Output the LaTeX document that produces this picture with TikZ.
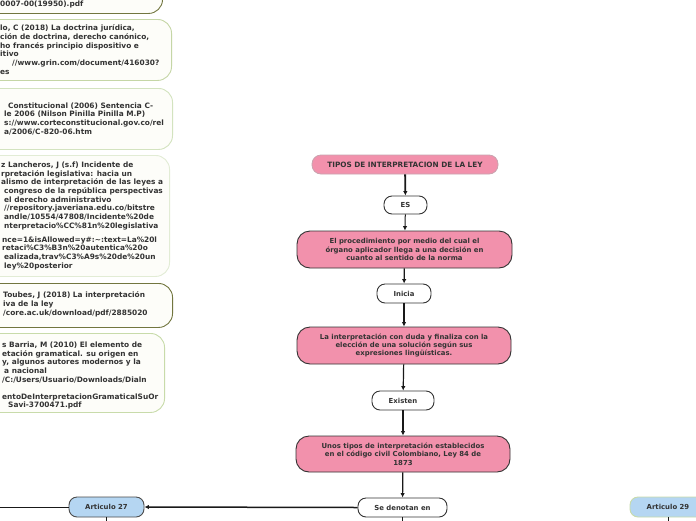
\documentclass[tikz,border=0pt]{standalone}
\usepackage{fontspec}
\setmainfont{DejaVu Sans}
\usetikzlibrary{arrows.meta}
\definecolor{pinkfill}{HTML}{F291AC}
\definecolor{bluefill}{HTML}{B5D6F2}
\definecolor{reffill}{HTML}{FDFDF9}
\definecolor{txt}{HTML}{333333}
\definecolor{olivedark}{HTML}{72763F}
\definecolor{greenA}{HTML}{C5D6A6}
\definecolor{greenB}{HTML}{D3E3BF}
\definecolor{greenC}{HTML}{E2ECD5}
\definecolor{greenD}{HTML}{C8DBAA}
\definecolor{pinkline}{HTML}{C9A3AF}
\begin{document}
\begin{tikzpicture}[x=1pt,y=-1pt,
  mainfont/.style={font=\fontsize{6.9}{8.4}\selectfont\bfseries},
  reffont/.style={font=\fontsize{7.4}{8.7}\selectfont\bfseries},
  refbox/.style={draw, line width=0.9pt, fill=reffill, rounded corners=14pt, inner sep=0pt},
  reftext/.style={reffont, text=txt, align=left, inner sep=0pt, anchor=north west},
  pinkbox/.style={draw=black!80, line width=0.9pt, fill=pinkfill, rounded corners=13pt, align=center, text=txt, mainfont, inner sep=0pt},
  whitebox/.style={draw=black!80, line width=0.9pt, fill=white, rounded corners=8pt, align=center, text=txt, mainfont, inner sep=0pt},
  bluebox/.style={draw=black!70, line width=0.9pt, fill=bluefill, rounded corners=8pt, align=center, text=txt, mainfont, inner sep=0pt},
  arr/.style={-{Latex[length=4.5pt,width=4.5pt]}, line width=1.2pt, draw=black!90},
  plain/.style={line width=1pt, draw=black!90}
]
\useasboundingbox (0,0) rectangle (696,520);
\clip (0,0) rectangle (696,520);
\fill[white] (0,0) rectangle (696,520);

% left reference boxes
\node[refbox, draw=olivedark, anchor=north east, minimum width=203pt, minimum height=53pt] (b1) at (163,-40) {};
\node[refbox, draw=greenA, anchor=north east, minimum width=212pt, minimum height=61pt] (b2) at (172,19) {};
\node[refbox, draw=greenB, anchor=north east, minimum width=213pt, minimum height=61pt] (b3) at (173,88) {};
\node[refbox, draw=greenC, anchor=north east, minimum width=210pt, minimum height=121pt] (b4) at (170,155) {};
\node[refbox, draw=olivedark, anchor=north east, minimum width=213pt, minimum height=44pt] (b5) at (173,283) {};
\node[refbox, draw=greenD, anchor=north east, minimum width=205pt, minimum height=79pt] (b6) at (165,333) {};

\node[reftext] (t1) at (0,0.5) {0007-00(19950).pdf};
\node[reftext] (t2) at (0,24.5) {lo, C (2018) La doctrina jurídica,\\
ción de doctrina, derecho canónico,\\
ho francés principio dispositivo e\\
itivo\\
\hspace*{12pt}//www.grin.com/document/416030?\\
es};
\node[reftext] (t3) at (4,102.2) {\hspace*{4pt}Constitucional (2006) Sentencia C-\\
le 2006 (Nilson Pinilla Pinilla M.P)\\
s://www.corteconstitucional.gov.co/rel\\
a/2006/C-820-06.htm};
\node[reftext] (t4) at (1,161.5) {z Lancheros, J (s.f) Incidente de\\
rpretación legislativa: hacia un\\
alismo de interpretación de las leyes a\\
\hspace*{3pt}congreso de la república perspectivas\\
\hspace*{3pt}el derecho administrativo\\
\hspace*{3pt}//repository.javeriana.edu.co/bitstre\\
\hspace*{3pt}andle/10554/47808/Incidente\%20de\\
\hspace*{3pt}nterpretacio\%CC\%81n\%20legislativa\\[5.3pt]
\hspace*{1pt}nce=1\&isAllowed=y\#:\textasciitilde:text=La\%20l\\
\hspace*{1pt}retaci\%C3\%B3n\%20autentica\%20o\\
\hspace*{3pt}ealizada,trav\%C3\%A9s\%20de\%20un\\
\hspace*{3pt}ley\%20posterior};
\node[reftext] (t5) at (3,291.5) {Toubes, J (2018) La interpretación\\
iva de la ley\\
/core.ac.uk/download/pdf/2885020};
\node[reftext] (t6) at (2,341.5) {s Barria, M (2010) El elemento de\\
etación gramatical. su origen en\\
y, algunos autores modernos y la\\
\hspace*{2pt}a nacional\\
/C:/Users/Usuario/Downloads/Dialn\\[8.4pt]
entoDeInterpretacionGramaticalSuOr\\
\hspace*{6pt}Savi-3700471.pdf};

% main flow
\node[pinkbox, draw=pinkline, line width=0.8pt, rounded corners=9pt, minimum width=186pt, minimum height=19pt, font=\fontsize{7.3}{8.4}\selectfont\bfseries] (tipos) at (405,164.5) {TIPOS DE INTERPRETACION DE LA LEY};
\node[whitebox, minimum width=43pt, minimum height=18pt] (es) at (405.5,205) {ES};
\node[pinkbox, minimum width=215pt, minimum height=37pt] (proc) at (404.5,249.5) {El procedimiento por medio del cual el\\órgano aplicador llega a una decisión en\\cuanto al sentido de la norma};
\node[whitebox, minimum width=54pt, minimum height=19pt] (inicia) at (404,293.5) {Inicia};
\node[pinkbox, minimum width=214pt, minimum height=37pt] (interp) at (404,345.5) {La interpretación con duda y finaliza con la\\elección de una solución según sus\\expresiones lingüísticas.};
\node[whitebox, minimum width=62pt, minimum height=19pt] (existen) at (403,400.5) {Existen};
\node[pinkbox, minimum width=214pt, minimum height=36pt] (unos) at (403,454) {Unos tipos de interpretación establecidos\\en el código civil Colombiano, Ley 84 de\\1873};
\node[whitebox, minimum width=89pt, minimum height=19pt] (denotan) at (402.5,507.5) {Se denotan en};
\node[bluebox, minimum width=75pt, minimum height=20pt] (art27) at (106.5,507) {Articulo 27};
\node[bluebox, draw=greenD, minimum width=76pt, minimum height=20pt] (art29) at (668,507) {Articulo 29};

\coordinate (offL) at (-10,507);
\coordinate (off27) at (106.5,530);
\coordinate (offD) at (402.5,530);
\coordinate (off29) at (668,530);

\draw[arr, line width=1.8pt] (tipos) -- (es);
\draw[arr, line width=1pt] (es) -- (proc);
\draw[arr] (proc) -- (inicia);
\draw[arr] (inicia) -- (interp);
\draw[arr] (interp) -- (existen);
\draw[arr] (existen) -- (unos);
\draw[arr] (unos) -- (denotan);
\draw[arr, line width=1.5pt] (denotan.west) -- (art27.east);
\draw[plain] (art27.west) -- (offL);
\draw[plain] (art27.south) -- (off27);
\draw[plain] (denotan.south) -- (offD);
\draw[plain] (art29.south) -- (off29);
\end{tikzpicture}
\end{document}
